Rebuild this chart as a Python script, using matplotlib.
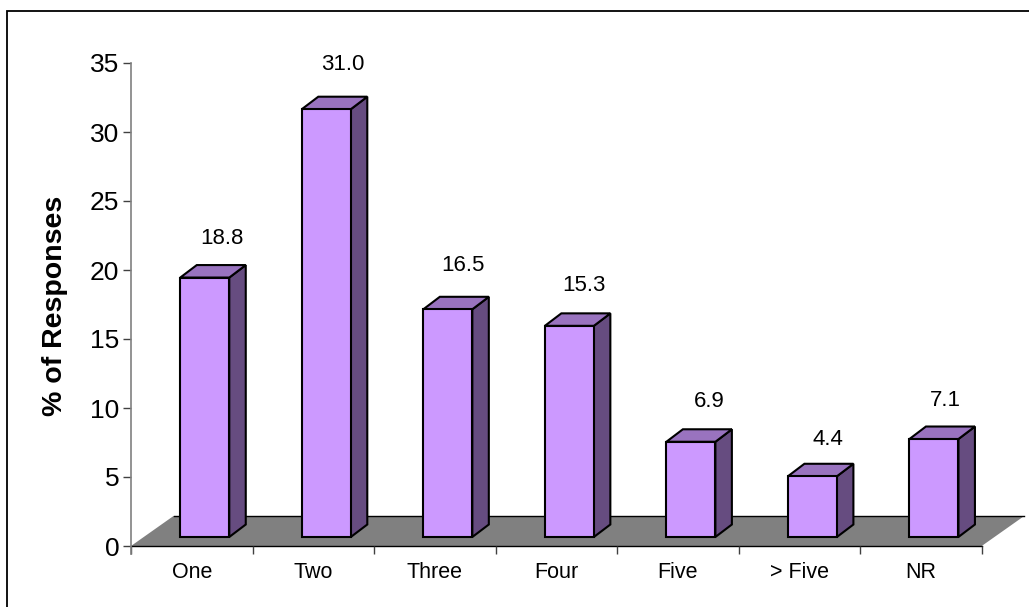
import matplotlib
matplotlib.use("Agg")
import matplotlib.pyplot as plt
from matplotlib.lines import Line2D
from matplotlib.transforms import Affine2D
from matplotlib.patches import Polygon

plt.rcParams['font.family'] = ['Liberation Sans', 'DejaVu Sans']

categories = ["One", "Two", "Three", "Four", "Five", "> Five", "NR"]
values = [18.8, 31.0, 16.5, 15.3, 6.9, 4.4, 7.1]
value_labels = ["18.8", "31.0", "16.5", "15.3", "6.9", "4.4", "7.1"]
y_ticks = [0, 5, 10, 15, 20, 25, 30, 35]
y_label = "% of Responses"

# label placement relative to each bar's top (pixels)
label_offsets = [(30, 48), (30, 54), (28, 53), (28, 49), (31, 49), (29, 46), (24, 48)]

W, H = 1029, 607
fig = plt.figure(figsize=(W / 100, H / 100), dpi=100, facecolor="white")
L, R, T, B = 131, 981.7, 63, 546
ax = fig.add_axes([L / W, (H - B) / H, (R - L) / W, (B - T) / H])
ax.set_xlim(0, len(categories))
ax.set_ylim(0, 35)
ax.patch.set_alpha(0)

# outer frame: only the top and left edges fall inside the picture
fig.add_artist(Line2D([1, 7 / W, 7 / W], [1 - 11 / H, 1 - 11 / H, 0],
                      transform=fig.transFigure, color="black", lw=1.3,
                      solid_joinstyle="miter"))

px_x = (R - L) / len(categories)
px_y = (B - T) / 35
bar_w = 49 / px_x
shift = ax.transData + Affine2D().translate(13, 9)
dx, dy = 16.5 / px_x, 12.5 / px_y

# floor
fx, fy = 42.5 / px_x, 30 / px_y
ax.add_patch(Polygon([(0, 0), (fx, fy), (7 + fx, fy), (7, 0)], closed=True,
                     facecolor="#808080", edgecolor="none", clip_on=False, zorder=1))
ax.plot([fx, 7 + fx], [fy, fy], color="black", lw=1.0, clip_on=False, zorder=1.1)
ax.plot([0, 7], [0, 0], color="black", lw=1.0, clip_on=False, zorder=1.1)

style = dict(edgecolor="black", linewidth=1.5, joinstyle="miter", clip_on=False, transform=shift)
for i, v in enumerate(values):
    x0, x1 = i + 0.5 - bar_w / 2, i + 0.5 + bar_w / 2
    ax.add_patch(Polygon([(x1, 0), (x1 + dx, dy), (x1 + dx, v + dy), (x1, v)],
                         facecolor="#664C80", zorder=2, **style))
    ax.add_patch(Polygon([(x0, v), (x0 + dx, v + dy), (x1 + dx, v + dy), (x1, v)],
                         facecolor="#9973BF", zorder=2, **style))
    ax.bar(i + 0.5, v, width=bar_w, color="#CC99FF", zorder=3, **style)
    ax.annotate(value_labels[i], (i + 0.5, v), xycoords="data", xytext=label_offsets[i],
                textcoords="offset pixels", ha="center", va="center",
                fontsize=16, color="black", zorder=4)

for s in ("top", "right", "bottom"):
    ax.spines[s].set_visible(False)
ax.spines["left"].set_color("#808080")
ax.spines["left"].set_linewidth(1.2)
ax.spines["left"].set_bounds(-0.55, 35)

ax.set_yticks(y_ticks)
ax.tick_params(axis="y", length=5.5, width=1, color="#404040", labelsize=19, pad=3)
ax.set_xticks(range(len(categories) + 1))
ax.set_xticklabels([])
ax.tick_params(axis="x", length=5.5, width=1, color="#404040")
for i, c in enumerate(categories):
    ax.annotate(c, (i + 0.5, 0), xycoords="data", xytext=(0, -26),
                textcoords="offset pixels", ha="center", va="center", fontsize=15.5)

fig.text(55 / W, 1 - 306 / H, y_label, rotation=90, ha="center", va="center",
         fontsize=20.5, fontweight="bold")

fig.savefig("out.png", dpi=100)
